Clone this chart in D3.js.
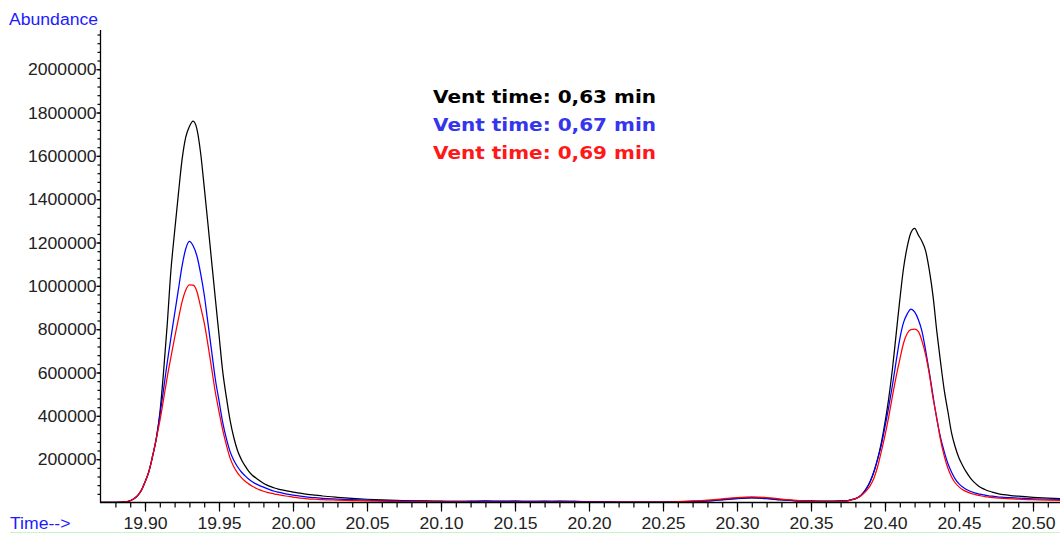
<!DOCTYPE html>
<html>
<head>
<meta charset="utf-8">
<script src="https://cdn.jsdelivr.net/npm/d3@7"></script>
<style>
  html, body { margin: 0; padding: 0; background: #ffffff; overflow: hidden; }
  svg { display: block; }
</style>
</head>
<body>
<svg id="chart" width="1060" height="533"></svg>
<script>
// Retention time (min) of each scan
const times = [
  19.870, 19.875, 19.880,
  19.885, 19.8875, 19.890, 19.8925, 19.895, 19.8975, 19.900, 19.9025, 19.905, 19.9075,
  19.910, 19.9125, 19.915, 19.9175, 19.920, 19.9225, 19.925, 19.9275, 19.930, 19.9325,
  19.935, 19.9375, 19.940, 19.9425, 19.945, 19.9475, 19.950, 19.9525, 19.955, 19.9575,
  19.960, 19.9625, 19.965, 19.9675, 19.970, 19.9725, 19.975, 19.9775, 19.980, 19.9825,
  19.985, 19.9875, 19.990,
  19.995, 20.000, 20.005, 20.010, 20.015, 20.020,
  20.030, 20.040, 20.050, 20.060, 20.070, 20.080, 20.090, 20.100, 20.110, 20.120,
  20.130, 20.140, 20.150, 20.160, 20.170, 20.180, 20.190, 20.200, 20.210, 20.220,
  20.230, 20.240, 20.250, 20.260, 20.270, 20.280, 20.290, 20.300, 20.310, 20.320,
  20.330, 20.340, 20.350, 20.360, 20.370,
  20.375, 20.3775, 20.380, 20.3825, 20.385, 20.3875, 20.390, 20.3925, 20.395, 20.3975,
  20.400, 20.4025, 20.405, 20.4075, 20.410, 20.4125, 20.415, 20.4175, 20.420, 20.4225,
  20.425, 20.4275, 20.430, 20.4325, 20.435, 20.4375, 20.440, 20.4425, 20.445, 20.4475,
  20.450, 20.4525, 20.455, 20.4575, 20.460, 20.4625, 20.465, 20.4675, 20.470, 20.4725,
  20.475, 20.4775, 20.480,
  20.485, 20.490, 20.500, 20.510, 20.520
];

// Abundance, vent time 0,63 min
const abundance063 = [
  500, 500, 700,
  1500, 4000, 8000, 17000, 32000, 56000, 95000, 140000, 210000, 290000,
  410000, 600000, 820000, 1070000, 1250000, 1420000, 1580000, 1685000, 1735000, 1760000,
  1726000, 1618000, 1457000, 1288000, 1114000, 943000, 774000, 605000, 485000, 379000,
  300000, 240000, 200000, 170000, 145000, 126000, 113000, 100000, 89000, 80000,
  73000, 67000, 62000,
  55000, 48000, 43000, 38000, 34000, 30000,
  24000, 19000, 15000, 12000, 10000, 8000, 7000, 6000, 5000, 5000,
  6000, 5000, 6000, 5000, 5000, 6000, 5000, 4000, 3000, 2000,
  2000, 2000, 2000, 3000, 4000, 7000, 12000, 18000, 21000, 18000,
  12000, 8000, 7000, 6000, 7000,
  9000, 13000, 18000, 27000, 42000, 65000, 97000, 142000, 200000, 275000,
  370000, 480000, 615000, 775000, 935000, 1080000, 1180000, 1245000, 1265000, 1235000,
  1205000, 1160000, 1070000, 950000, 790000, 650000, 520000, 420000, 320000, 255000,
  205000, 170000, 140000, 115000, 95000, 80000, 68000, 60000, 53000, 48000,
  43000, 39000, 36000,
  32000, 29000, 24000, 20000, 17000
];

// Abundance, vent time 0,67 min
const abundance067 = [
  500, 500, 700,
  1500, 4000, 8000, 17000, 32000, 56000, 95000, 140000, 210000, 290000,
  400000, 520000, 645000, 760000, 870000, 980000, 1090000, 1170000, 1205000, 1185000,
  1140000, 1060000, 960000, 830000, 700000, 570000, 470000, 370000, 295000, 235000,
  195000, 165000, 142000, 124000, 108000, 96000, 86000, 78000, 71000, 64000,
  57000, 52000, 48000,
  40000, 34000, 29000, 25000, 22000, 19000,
  16000, 13000, 11000, 9000, 8000, 7000, 6000, 5000, 5000, 6000,
  7000, 6000, 6000, 5000, 6000, 5000, 5000, 4000, 3000, 2000,
  2000, 2000, 2000, 3000, 5000, 8000, 13000, 19000, 22000, 19000,
  13000, 8000, 6000, 5000, 6000,
  9000, 13000, 18000, 27000, 42000, 65000, 97000, 142000, 200000, 265000,
  350000, 440000, 540000, 650000, 755000, 830000, 870000, 893000, 880000, 845000,
  790000, 700000, 600000, 490000, 385000, 300000, 235000, 180000, 140000, 108000,
  86000, 71000, 60000, 52000, 46000, 41000, 37000, 34000, 31000, 29000,
  27000, 25000, 24000,
  22000, 20000, 17000, 15000, 14000
];

// Abundance, vent time 0,69 min
const abundance069 = [
  500, 500, 700,
  1500, 4000, 8000, 17000, 32000, 56000, 95000, 140000, 210000, 290000,
  375000, 475000, 578000, 670000, 760000, 845000, 925000, 980000, 1005000, 1003000,
  975000, 905000, 830000, 730000, 620000, 510000, 420000, 335000, 265000, 205000,
  165000, 137000, 116000, 99000, 86000, 75000, 66000, 58000, 52000, 47000,
  43000, 39000, 36000,
  30000, 25000, 20000, 17000, 15000, 13000,
  11000, 9000, 7000, 6000, 5000, 4000, 4000, 3000, 3000, 2000,
  2000, 2000, 2000, 2000, 2000, 2000, 2000, 2000, 2000, 2000,
  2000, 2000, 2000, 4000, 7000, 11000, 17000, 23000, 26000, 23000,
  16000, 10000, 6000, 4000, 5000,
  8000, 12000, 17000, 25000, 38000, 55000, 78000, 112000, 165000, 235000,
  310000, 395000, 490000, 580000, 660000, 735000, 780000, 798000, 800000, 790000,
  745000, 680000, 590000, 480000, 390000, 290000, 215000, 158000, 118000, 90000,
  72000, 59000, 50000, 43000, 38000, 34000, 30000, 27000, 25000, 23000,
  21000, 20000, 19000,
  17000, 15000, 13000, 11000, 10000
];

const legendLabels = ["Vent time: 0,63 min", "Vent time: 0,67 min", "Vent time: 0,69 min"];
const xMajorTicks = [19.90, 19.95, 20.00, 20.05, 20.10, 20.15, 20.20, 20.25, 20.30, 20.35, 20.40, 20.45, 20.50];
const yMajorTicks = [200000, 400000, 600000, 800000, 1000000, 1200000, 1400000, 1600000, 1800000, 2000000];

const series = [
  { values: abundance063, line: "#000000", text: "#000000", label: legendLabels[0] },
  { values: abundance067, line: "#0000ff", text: "#3535ee", label: legendLabels[1] },
  { values: abundance069, line: "#ff0000", text: "#ff1818", label: legendLabels[2] }
];

const svg = d3.select("#chart");
const tickFont = "'Liberation Sans', Arial, Helvetica, sans-serif";

const x = d3.scaleLinear().domain([19.87, 20.52]).range([100.6, 1062.6]);
const y = d3.scaleLinear().domain([0, 2180000]).range([502.5, 30.2]);

// widen glyphs slightly, as the instrument software renders them
function stretch(sel, k) {
  sel.each(function () {
    const len = this.getComputedTextLength();
    d3.select(this).attr("textLength", len * k).attr("lengthAdjust", "spacingAndGlyphs");
  });
}

const plot = svg.append("g");
plot.append("clipPath").attr("id", "clip")
  .append("rect").attr("x", 101).attr("y", 0).attr("width", 960).attr("height", 503);

// chromatogram traces
const line = d3.line()
  .x((d, i) => x(times[i]))
  .y(d => y(d))
  .curve(d3.curveMonotoneX);

plot.append("g").attr("clip-path", "url(#clip)")
  .selectAll("path")
  .data(series)
  .join("path")
  .attr("d", s => line(s.values))
  .attr("fill", "none")
  .attr("stroke", s => s.line)
  .attr("stroke-width", 1.25)
  .attr("stroke-linejoin", "round");

// x axis: minor ticks every 0.01 min, labelled ticks every 0.05 min
const xMinor = d3.range(19.88, 20.521, 0.01).map(v => Math.round(v * 100) / 100);
const xMinorAxis = d3.axisBottom(x).tickValues(xMinor).tickSize(5).tickFormat("");
const xMajorAxis = d3.axisBottom(x).tickValues(xMajorTicks).tickSize(9).tickFormat(d3.format(".2f"));

const gxMinor = svg.append("g").attr("transform", "translate(0,502.5)").call(xMinorAxis);
const gxMajor = svg.append("g").attr("transform", "translate(0,502.5)").call(xMajorAxis);
[gxMinor, gxMajor].forEach(g => {
  g.select(".domain").remove();
  g.selectAll(".tick line").attr("stroke", "#000").attr("stroke-width", 1.2);
});
gxMajor.selectAll(".tick text")
  .attr("y", 26).attr("dy", 0)
  .attr("fill", "#222")
  .style("font-family", tickFont)
  .style("font-size", "16px")
  .call(stretch, 1.1);

// y axis: minor ticks every 40000, labelled ticks every 200000
const yMinor = d3.range(40000, 2180000, 40000);
const yMinorAxis = d3.axisLeft(y).tickValues(yMinor).tickSize(3).tickFormat("");
const yMajorAxis = d3.axisLeft(y).tickValues(yMajorTicks).tickSize(4).tickFormat(d3.format("d"));

const gyMinor = svg.append("g").attr("transform", "translate(100.5,0)").call(yMinorAxis);
const gyMajor = svg.append("g").attr("transform", "translate(100.5,0)").call(yMajorAxis);
[gyMinor, gyMajor].forEach(g => {
  g.select(".domain").remove();
  g.selectAll(".tick line").attr("stroke", "#000").attr("stroke-width", 1.2);
});
gyMajor.selectAll(".tick text")
  .attr("x", -4).attr("dy", "0.36em")
  .attr("fill", "#222")
  .style("font-family", tickFont)
  .style("font-size", "16px")
  .call(stretch, 1.1);

// axis lines
svg.append("line")
  .attr("x1", 100.5).attr("x2", 100.5).attr("y1", 30).attr("y2", 503)
  .attr("stroke", "#000").attr("stroke-width", 1.3);
svg.append("line")
  .attr("x1", 100).attr("x2", 1060).attr("y1", 502.5).attr("y2", 502.5)
  .attr("stroke", "#000").attr("stroke-width", 1.3);

// axis titles
svg.append("text")
  .attr("x", 9).attr("y", 25)
  .attr("fill", "#1c1cff")
  .style("font-family", tickFont).style("font-size", "16px")
  .text("Abundance")
  .call(stretch, 1.1);

svg.append("text")
  .attr("x", 10).attr("y", 528.5)
  .attr("fill", "#1c1cff")
  .style("font-family", tickFont).style("font-size", "16px")
  .text("Time-->")
  .call(stretch, 1.1);

// faint rule along the bottom edge
svg.append("line")
  .attr("x1", 10).attr("x2", 1060).attr("y1", 532.5).attr("y2", 532.5)
  .attr("stroke", "#c9f3c9").attr("stroke-width", 1);

// legend
svg.append("g")
  .selectAll("text")
  .data(series)
  .join("text")
  .attr("x", 433)
  .attr("y", (d, i) => 102.5 + i * 28.3)
  .attr("fill", d => d.text)
  .style("font-family", "'DejaVu Sans', Verdana, sans-serif")
  .style("font-size", "17px")
  .style("font-weight", "bold")
  .attr("textLength", 223)
  .attr("lengthAdjust", "spacingAndGlyphs")
  .text(d => d.label);
</script>
</body>
</html>
